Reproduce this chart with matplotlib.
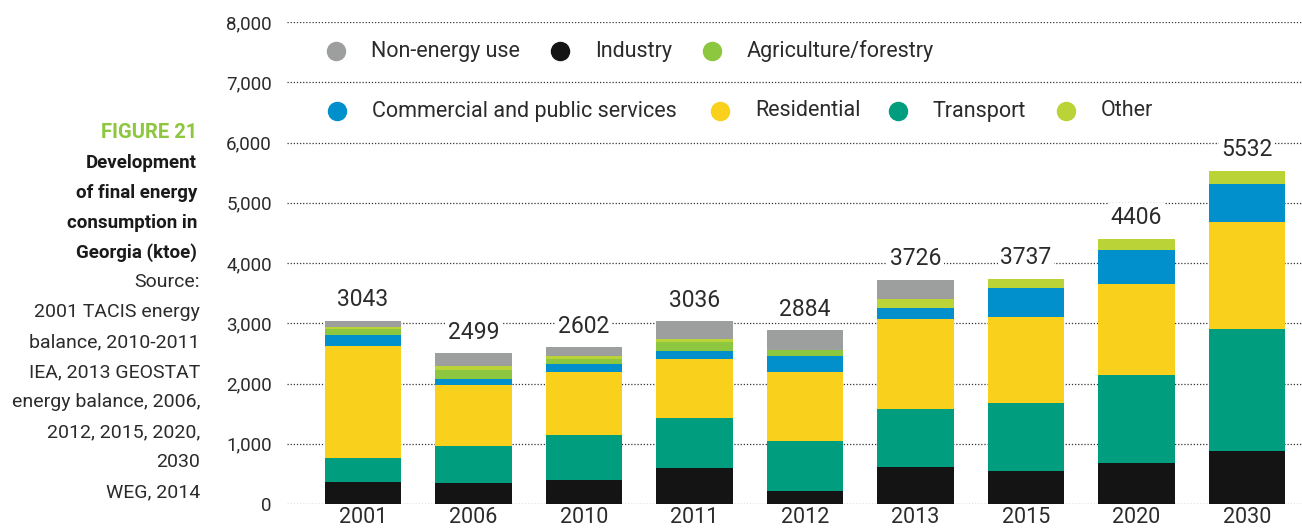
import matplotlib.pyplot as plt
import numpy as np

years = ['2001', '2006', '2010', '2011', '2012', '2013', '2015', '2020', '2030']
totals = [3043, 2499, 2602, 3036, 2884, 3726, 3737, 4406, 5532]

# stack order bottom -> top
industry = [365, 352, 403, 604, 218, 619, 553, 684, 883]
transport = [400, 604, 738, 822, 822, 953, 1123, 1452, 2016]
residential = [1862, 1023, 1058, 973, 1157, 1504, 1425, 1519, 1783]
commercial = [183, 100, 117, 134, 252, 184, 486, 568, 633]
agriculture = [100, 151, 84, 151, 101, 0, 0, 0, 0]
other = [33, 67, 50, 50, 0, 150, 150, 183, 217]
non_energy = [100, 202, 152, 302, 334, 316, 0, 0, 0]

series = [
    ('Industry', industry, '#141414'),
    ('Transport', transport, '#009e7f'),
    ('Residential', residential, '#f9d01c'),
    ('Commercial and public services', commercial, '#0290cc'),
    ('Agriculture/forestry', agriculture, '#8dc63f'),
    ('Other', other, '#bad336'),
    ('Non-energy use', non_energy, '#9d9e9e'),
]
colors = {name: c for name, _, c in series}

W, H = 1302, 531
txt = '#2b2b2b'
plt.rcParams['font.family'] = ['Roboto', 'DejaVu Sans']

fig = plt.figure(figsize=(W / 100, H / 100), dpi=100)
ax = fig.add_axes([287 / W, 27 / H, 1015 / W, 482 / H])

x = np.arange(len(years))
bottom = np.zeros(len(years))
for name, vals, c in series:
    ax.bar(x, vals, 0.69, bottom=bottom, color=c, zorder=2)
    bottom += np.array(vals)

for xi, t in zip(x, totals):
    ax.annotate(str(t), (xi, t), xytext=(0, 21), textcoords='offset pixels',
                ha='center', va='center', fontsize=16.5, color=txt, zorder=3,
                bbox=dict(facecolor='white', edgecolor='none', pad=2))

ax.set_xlim(-0.688, 8.498)
ax.set_ylim(0, 8000)
ax.set_yticks(range(0, 8001, 1000))
ax.set_yticklabels([f'{v:,}' for v in range(0, 8001, 1000)], fontsize=13.5, color=txt)
ax.set_xticks(x)
ax.set_xticklabels(years, fontsize=15.5, color=txt)
ax.tick_params(axis='y', length=0, pad=11)
ax.tick_params(axis='x', length=0, pad=2)
ax.grid(axis='y', linestyle=(0, (1, 1.5)), color='#333333', lw=0.9, zorder=0)
ax.set_axisbelow(True)
for s in ax.spines.values():
    s.set_visible(False)

# legend, two rows
legend_items = [
    ('Non-energy use', 336, 51), ('Industry', 560, 51), ('Agriculture/forestry', 712, 51),
    ('Commercial and public services', 337, 111), ('Residential', 720, 111),
    ('Transport', 898, 111), ('Other', 1066, 111),
]
for name, px, py in legend_items:
    fx, fy = px / W, 1 - py / H
    fig.add_artist(plt.Line2D([fx], [fy], marker='o', markersize=13, color=colors[name],
                              lw=0, transform=fig.transFigure))
    fig.text(fx + 35 / W, fy, name, fontsize=15.5, color=txt, va='center', ha='left')

# left-hand caption
tx = 197 / W
fig.text(tx, 1 - 132 / H, 'FIGURE 21', fontsize=14.5, fontweight='bold', color='#8dc63f',
         ha='right', va='center')
for i, line in enumerate(['Development', 'of final energy', 'consumption in', 'Georgia (ktoe)']):
    fig.text(tx, 1 - (163 + 30 * i) / H, line, fontsize=13.5, fontweight='bold', color='#1a1a1a',
             ha='right', va='center')
src = ['Source:', '2001 TACIS energy', 'balance, 2010-2011', 'IEA, 2013 GEOSTAT',
       'energy balance, 2006,', '2012, 2015, 2020,', '2030', 'WEG, 2014']
for i, line in enumerate(src):
    fig.text(200 / W, 1 - (282 + 30 * i) / H, line, fontsize=14, color=txt,
             ha='right', va='center')

fig.savefig('out.png', dpi=100)
